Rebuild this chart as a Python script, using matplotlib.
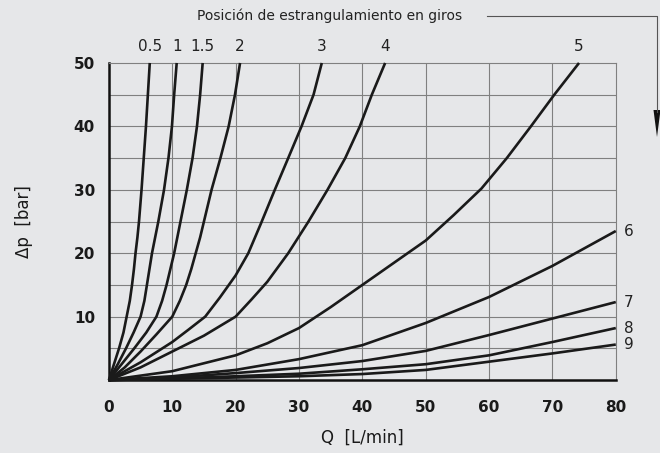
import matplotlib
matplotlib.use("Agg")
from matplotlib import pyplot as plt
from matplotlib.lines import Line2D
from matplotlib.patches import Polygon

# throttle positions (turns) and curves: Q [L/min], dp [bar]
labels = ["0.5", "1", "1.5", "2", "3", "4", "5", "6", "7", "8", "9"]

q05 = [0, 0.8, 1.6, 2.3, 2.8, 3.3, 3.65, 3.95, 4.2, 4.5, 4.75, 5.15, 5.5, 5.85, 6.15, 6.45]
p05 = [0, 2.5, 5, 7.5, 10, 12.5, 15, 17.5, 20, 22.5, 25, 30, 35, 40, 45, 50]
q1 = [0, 1.4, 2.7, 3.9, 5.0, 5.6, 6.0, 6.4, 6.8, 7.3, 7.8, 8.7, 9.4, 9.95, 10.3, 10.7]
p1 = [0, 2.5, 5, 7.5, 10, 12.5, 15, 17.5, 20, 22.5, 25, 30, 35, 40, 45, 50]
q15 = [0, 2.0, 4.0, 5.9, 7.5, 8.4, 9.1, 9.7, 10.3, 10.8, 11.3, 12.3, 13.2, 13.9, 14.4, 14.8]
p15 = [0, 2.5, 5, 7.5, 10, 12.5, 15, 17.5, 20, 22.5, 25, 30, 35, 40, 45, 50]
q2 = [0, 2.5, 5.0, 7.5, 10.0, 11.2, 12.2, 13.0, 13.7, 14.4, 15.0, 16.2, 17.6, 18.9, 19.9, 20.7]
p2 = [0, 2, 4.5, 7.2, 10, 12.5, 15, 17.5, 20, 22.5, 25, 30, 35, 40, 45, 50]
q3 = [0, 5, 10, 12.5, 15.2, 17.5, 20, 22, 24, 26.1, 28.3, 30.4, 32.3, 33.6]
p3 = [0, 2.8, 6, 7.9, 10, 13, 16.5, 20, 24.7, 29.8, 35, 40, 45, 50]
q4 = [0, 5, 10, 15, 20, 22.5, 25, 28.3, 31.5, 34.5, 37.3, 39.6, 41.5, 43.6]
p4 = [0, 2, 4.5, 7, 10, 12.7, 15.5, 20, 25, 30, 35, 40, 45, 50]
q5 = [0, 10, 20, 25, 30, 35, 40, 45, 50, 54.4, 58.8, 62.8, 66.6, 70.3, 74.2]
p5 = [0, 1.4, 3.9, 5.8, 8.2, 11.5, 15, 18.5, 22, 26, 30.2, 35, 40, 45, 50]
q6 = [0, 10, 20, 30, 40, 50, 60, 70, 80]
p6 = [0, 0.6, 1.6, 3.3, 5.5, 9.0, 13.1, 18.0, 23.5]
q7 = [0, 10, 20, 30, 40, 50, 60, 70, 80]
p7 = [0, 0.4, 1.1, 1.9, 3.0, 4.6, 7.1, 9.7, 12.3]
q8 = [0, 10, 20, 30, 40, 50, 60, 70, 80]
p8 = [0, 0.25, 0.6, 1.0, 1.7, 2.5, 3.9, 6.0, 8.2]
q9 = [0, 10, 20, 30, 40, 50, 60, 70, 80]
p9 = [0, 0.2, 0.4, 0.6, 0.95, 1.6, 2.9, 4.2, 5.6]

curves = [(q05, p05), (q1, p1), (q15, p15), (q2, p2), (q3, p3), (q4, p4),
          (q5, p5), (q6, p6), (q7, p7), (q8, p8), (q9, p9)]

xticks = [0, 10, 20, 30, 40, 50, 60, 70, 80]
yticks = [10, 20, 30, 40, 50]

bg = "#e6e7e9"

fig = plt.figure(figsize=(6.6, 4.53), dpi=100, facecolor=bg)
ax = fig.add_axes([0.165, 0.161, 0.768, 0.7])
ax.set_facecolor(bg)

ax.set_xlim(0, 80)
ax.set_ylim(0, 50)

# grid
for x in range(10, 80, 10):
    ax.axvline(x, color="#808080", lw=0.8, zorder=1)
for y in range(5, 50, 5):
    ax.axhline(y, color="#808080", lw=0.8, zorder=1)

for s in ["top", "right"]:
    ax.spines[s].set_color("#808080")
    ax.spines[s].set_linewidth(0.8)
for s in ["left", "bottom"]:
    ax.spines[s].set_color("#111111")
    ax.spines[s].set_linewidth(1.8)

for i, (q, p) in enumerate(curves):
    ax.plot(q, p, color="#1a1a1a", lw=1.9, solid_joinstyle="round",
            solid_capstyle="butt", zorder=3, clip_on=False)
    if p[-1] >= 50:
        ax.text(q[-1], 52.6, labels[i], ha="center", va="center",
                fontsize=11, color="#222222", clip_on=False)
    else:
        ax.text(81.3, p[-1], labels[i], ha="left", va="center",
                fontsize=11, color="#222222", clip_on=False)

ax.set_xticks(xticks)
ax.set_yticks(yticks)
ax.tick_params(length=0, labelsize=11, colors="#1a1a1a")
ax.tick_params(axis="x", pad=14)
ax.tick_params(axis="y", pad=10)
for lab in ax.get_xticklabels() + ax.get_yticklabels():
    lab.set_fontweight("bold")

ax.set_xlabel("Q  [L/min]", fontsize=12, labelpad=10, color="#1a1a1a")
ax.set_ylabel("Δp  [bar]", fontsize=12, labelpad=29, color="#1a1a1a")

# heading with leader line and arrow
fig.text(330 / 660, 1 - 16 / 453, "Posición de estrangulamiento en giros",
         ha="center", va="center", fontsize=10, color="#222222")
fig.add_artist(Line2D([487 / 660, 657 / 660, 657 / 660],
                      [1 - 16 / 453, 1 - 16 / 453, 1 - 112 / 453],
                      color="#555555", lw=0.8, transform=fig.transFigure))
fig.add_artist(Polygon([(653.5 / 660, 1 - 110 / 453), (660.5 / 660, 1 - 110 / 453),
                        (657 / 660, 1 - 137 / 453)], closed=True,
                       facecolor="#111111", edgecolor="none",
                       transform=fig.transFigure))

fig.savefig("out.png", dpi=100, facecolor=bg)
